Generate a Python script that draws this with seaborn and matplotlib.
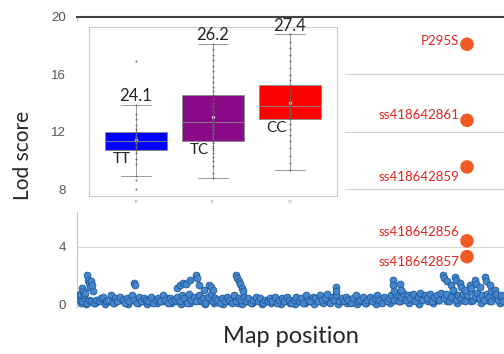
import numpy as np
import pandas as pd
import matplotlib
matplotlib.use("Agg")
import matplotlib.pyplot as plt
from matplotlib.patches import Rectangle
import seaborn as sns

# genome-wide scan: background markers (low band)
band_pos = [2, 8, 13, 19, 24, 30, 36, 41, 47, 52,
            58, 63, 69, 75, 80, 86, 91, 97, 103, 108,
            114, 119, 125, 131, 136, 142, 147, 153, 158, 164,
            170, 175, 181, 186, 192, 198, 203, 209, 214, 220,
            226, 231, 237, 242, 248, 254, 259, 265, 270, 276,
            282, 287, 293, 298, 304, 310, 315, 321, 326, 332,
            338, 343, 349, 354, 360, 366, 371, 377, 382, 388,
            394, 399, 405, 410, 416, 422, 427, 433, 438, 444,
            450, 455, 461, 466, 472, 478, 483, 489, 494, 500,
            506, 511, 517, 522, 528, 534, 539, 545, 550, 556,
            562, 567, 573, 578, 584, 590, 595, 601, 606, 612,
            618, 623, 629, 634, 640, 646, 651, 657, 662, 668,
            674, 679, 685, 690, 696, 702, 707, 713, 718, 724,
            730, 735, 741, 746, 752, 758, 763, 769, 774, 780,
            786, 791, 797, 802, 808, 814, 819, 825, 830, 836,
            842, 847, 853, 858, 864, 870, 875, 881, 886, 892,
            898, 903, 909, 914, 920, 926, 931, 937, 942, 948,
            954, 959, 965, 970, 976, 982, 987, 993, 998]
band_lod = [0.3, 0.2, 0.4, 0.1, 0.3, 0.2, 0.1, 0.3, 0.2, 0.4,
            0.5, 0.2, 0.3, 0.6, 0.1, 0.4, 0.2, 0.5, 0.3, 0.1,
            0.4, 0.2, 0.6, 0.3, 0.1, 0.5, 0.2, 0.4, 0.3, 0.2,
            0.5, 0.1, 0.3, 0.4, 0.2, 0.6, 0.3, 0.1, 0.4, 0.2,
            0.3, 0.5, 0.2, 0.6, 0.4, 0.1, 0.7, 0.3, 0.5, 0.2,
            0.6, 0.3, 0.4, 0.1, 0.5, 0.7, 0.2, 0.4, 0.3, 0.1,
            0.4, 0.2, 0.5, 0.3, 0.1, 0.6, 0.2, 0.4, 0.3, 0.5,
            0.2, 0.4, 0.1, 0.3, 0.5, 0.2, 0.4, 0.1, 0.3, 0.2,
            0.4, 0.2, 0.5, 0.1, 0.3, 0.4, 0.2, 0.5, 0.3, 0.1,
            0.3, 0.5, 0.2, 0.4, 0.1, 0.6, 0.3, 0.2, 0.5, 0.4,
            0.2, 0.6, 0.3, 0.4, 0.7, 0.1, 0.5, 0.3, 0.6, 0.2,
            0.4, 0.2, 0.5, 0.3, 0.1, 0.4, 0.6, 0.2, 0.3, 0.5,
            0.1, 0.3, 0.5, 0.2, 0.4, 0.6, 0.3, 0.1, 0.5, 0.2,
            0.4, 0.6, 0.3, 0.7, 0.2, 0.5, 0.8, 0.3, 0.6, 0.4,
            0.7, 0.2, 0.5, 0.8, 0.3, 0.6, 0.4, 0.7, 0.2, 0.5,
            0.6, 0.3, 0.8, 0.4, 0.7, 0.2, 0.5, 0.9, 0.3, 0.6,
            0.4, 0.7, 0.2, 0.6, 0.9, 0.3, 0.5, 0.8, 0.4, 0.6,
            0.3, 0.7, 0.5, 0.2, 0.6, 0.4, 0.3, 0.5, 0.2]

# second, lower row of background markers
band2_pos = [5, 16, 27, 38, 50, 61, 72, 83, 94, 106,
             117, 128, 139, 150, 161, 173, 184, 195, 206, 217,
             228, 240, 251, 262, 273, 285, 296, 307, 318, 329,
             340, 352, 363, 374, 385, 396, 408, 419, 430, 441,
             452, 463, 475, 486, 497, 508, 519, 531, 542, 553,
             564, 575, 587, 598, 609, 620, 631, 643, 654, 665,
             676, 687, 699, 710, 721, 732, 743, 755, 766, 777,
             788, 799, 811, 822, 833, 844, 855, 867, 878, 889,
             900, 911, 923, 934, 945, 956, 967, 979, 990]
band2_lod = [0.1, 0.0, 0.2, 0.1, 0.3, 0.0, 0.2, 0.1, 0.3, 0.2,
             0.0, 0.3, 0.1, 0.2, 0.0, 0.3, 0.1, 0.2, 0.4, 0.1,
             0.2, 0.0, 0.3, 0.1, 0.4, 0.2, 0.0, 0.3, 0.1, 0.2,
             0.0, 0.2, 0.3, 0.1, 0.0, 0.2, 0.1, 0.3, 0.0, 0.2,
             0.1, 0.3, 0.0, 0.2, 0.1, 0.0, 0.3, 0.1, 0.2, 0.0,
             0.3, 0.1, 0.2, 0.4, 0.0, 0.2, 0.1, 0.3, 0.0, 0.2,
             0.1, 0.3, 0.0, 0.2, 0.4, 0.1, 0.3, 0.2, 0.5, 0.1,
             0.3, 0.0, 0.4, 0.2, 0.1, 0.3, 0.5, 0.2, 0.4, 0.1,
             0.3, 0.6, 0.2, 0.4, 0.1, 0.3, 0.2, 0.4, 0.1]

# small peaks in the scan
peak_pos = [0, 4, 7, 10, 12, 15, 20, 22, 24, 26, 29, 31, 33,
            131, 133, 230, 238, 246, 252, 262, 275, 278, 283,
            295, 306, 310, 315, 370, 373, 376, 379, 383, 386,
            604, 606, 738, 740, 742, 756, 758,
            857, 860, 866, 876, 880, 885, 888, 897, 900, 909,
            920, 923, 932, 935, 944, 955, 958, 967, 970, 979, 982, 992]
peak_lod = [0.6, 0.7, 1.1, 0.9, 0.6, 0.8, 2.0, 1.7, 1.5, 1.2, 1.6, 1.3, 0.9,
            1.5, 1.3, 1.1, 1.3, 1.5, 1.4, 1.7, 2.0, 1.8, 1.3,
            1.0, 1.3, 1.2, 1.0, 2.0, 1.8, 1.6, 1.4, 1.1, 0.9,
            1.2, 0.9, 1.7, 1.3, 0.9, 1.4, 1.0,
            2.0, 1.8, 1.6, 1.3, 1.0, 1.9, 1.7, 1.5, 1.2, 1.0,
            1.3, 1.1, 1.7, 1.4, 1.2, 1.9, 1.6, 1.3, 0.9, 1.0, 0.7, 0.6]

# significant SNPs
hit_names = ["P295S", "ss418642861", "ss418642859", "ss418642856", "ss418642857"]
hit_pos = [913, 913, 913, 913, 913]
hit_lod = [18.1, 12.8, 9.55, 4.4, 3.3]

# genotype effect (inset)
genotypes = ["TT", "TC", "CC"]
genotype_means = ["24.1", "26.2", "27.4"]
tt_vals = [0.75, 1.2, 1.35, 1.9, 2.15, 2.4, 2.55, 2.62, 2.7, 2.78, 2.85, 2.9, 2.96,
           3.02, 3.08, 3.14, 3.2, 3.28, 3.37, 3.5, 3.7, 3.95, 4.2, 4.6, 6.6]
tc_vals = [1.27, 1.5, 1.8, 2.05, 2.25, 2.4, 2.55, 2.65, 2.75, 2.86, 2.96, 3.05, 3.15,
           3.25, 3.35, 3.45, 3.52, 3.6, 3.68, 3.75, 3.83, 3.92, 4.02, 4.12, 4.22, 4.33,
           4.45, 4.58, 4.7, 4.88, 5.06, 5.25, 5.45, 5.65, 5.9, 6.15, 6.4, 6.65, 6.9,
           7.15, 7.39]
cc_vals = [1.65, 1.95, 2.3, 2.65, 2.95, 3.25, 3.5, 3.75, 3.97, 4.05, 4.13, 4.2, 4.28,
           4.35, 4.42, 4.5, 4.56, 4.63, 4.7, 4.8, 4.9, 5.02, 5.15, 5.32, 5.52, 5.75,
           6.0, 6.3, 6.6, 6.9, 7.2, 7.5, 7.84]

sns.set_style("white")
plt.rcParams["font.family"] = ["Lato", "DejaVu Sans"]

markers = pd.DataFrame({"pos": band2_pos + band_pos + peak_pos,
                        "lod": band2_lod + band_lod + peak_lod})
hits = pd.DataFrame({"pos": hit_pos, "lod": hit_lod, "name": hit_names})

fig = plt.figure(figsize=(5.04, 3.54), dpi=100)
ax = fig.add_axes([0.1528, 0.129, 0.8472, 0.823])

sns.scatterplot(data=markers, x="pos", y="lod", ax=ax, s=24, color="#4586cc",
                edgecolor="#1c5a9c", linewidth=0.6, zorder=3)
sns.scatterplot(data=hits, x="pos", y="lod", ax=ax, s=95, color="#f15a22",
                edgecolor="none", zorder=4)

label_offsets = [0.2, 0.35, -0.7, 0.6, -0.4]
for (_, r), off in zip(hits.iterrows(), label_offsets):
    ax.text(r["pos"] - 18, r["lod"] + off, r["name"], ha="right", va="center",
            color="#e8221b", fontsize=9.5)

ax.set_xlim(-4, 1000)
ax.set_ylim(-0.3, 20)
ax.set_yticks([0, 4, 8, 12, 16, 20])
ax.set_xticks([])
ax.yaxis.grid(True, color="#d4d4d4", linewidth=0.8)
ax.set_axisbelow(True)
ax.tick_params(axis="y", length=3, color="#bbbbbb", pad=5, labelsize=9.5,
               labelcolor="#555555")
for lab in ax.get_yticklabels():
    lab.set_family(["Liberation Sans", "DejaVu Sans"])
for s in ["right", "bottom"]:
    ax.spines[s].set_visible(False)
ax.spines["left"].set_color("#c8c8c8")
ax.spines["top"].set_color("#444444")
ax.spines["top"].set_linewidth(1.5)
ax.set_xlabel("Map position", fontsize=17)
ax.xaxis.set_label_coords(0.50, -0.06)
ax.set_ylabel("Lod score", fontsize=15)
ax.yaxis.set_label_coords(-0.103, 0.526)

# white panel behind the inset
fig.add_artist(Rectangle((0.1488, 0.401), 0.5357, 0.537, transform=fig.transFigure,
                         facecolor="white", edgecolor="none", zorder=0.5))

geno = pd.DataFrame({
    "genotype": ["TT"] * len(tt_vals) + ["TC"] * len(tc_vals) + ["CC"] * len(cc_vals),
    "value": tt_vals + tc_vals + cc_vals,
})

ins = fig.add_axes([89 / 504, 158 / 354, 248 / 504, 169 / 354], zorder=2)
ins.set_facecolor("white")
sns.boxplot(data=geno, x="genotype", y="value", hue="genotype", order=genotypes,
            palette=["#0000ff", "#8a0a8a", "#ff0000"], saturation=1, width=0.8,
            showfliers=False, linecolor="#8a8a8a", linewidth=0.6, showmeans=True,
            meanprops=dict(marker="o", markersize=2.5, markerfacecolor="#eeeeee",
                           markeredgecolor="none"),
            legend=False, ax=ins)
sns.stripplot(data=geno, x="genotype", y="value", order=genotypes, jitter=False,
              size=1.4, color="#666666", ax=ins, zorder=3)

for i, (g, vals) in enumerate(zip(genotypes, [tt_vals, tc_vals, cc_vals])):
    q1, q3 = np.percentile(vals, [25, 75])
    hi = max(v for v in vals if v <= q3 + 1.5 * (q3 - q1))
    ins.text(i, hi + 0.03, genotype_means[i], ha="center", va="bottom", fontsize=12)
    ins.text(i - 0.18, q1 - 0.1, g, ha="center", va="top", fontsize=11)

ins.set_xlim(-0.61, 2.61)
ins.set_ylim(0.45, 8.17)
ins.set_yticks(range(1, 9))
ins.set_xlabel("")
ins.set_ylabel("")
ins.tick_params(axis="y", length=2, color="#aaaaaa", labelleft=False)
ins.tick_params(axis="x", length=0, labelsize=3, labelcolor="#999999", pad=3)
for s in ins.spines.values():
    s.set_color("#cccccc")
    s.set_linewidth(0.8)

fig.savefig("out.png", dpi=100)
